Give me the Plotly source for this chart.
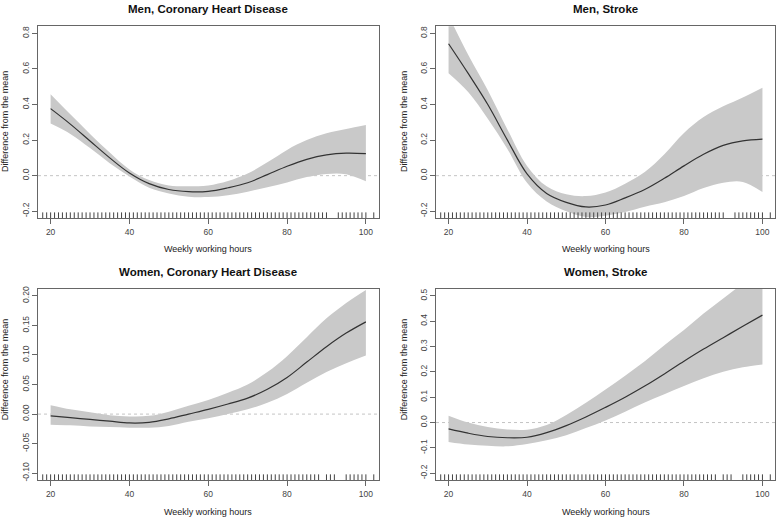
import plotly.graph_objects as go

W, H = 778, 520

hours = [20, 25, 30, 35, 40, 45, 50, 55, 60, 65, 70, 75, 80, 85, 90, 95, 100]

men_chd_fit = [0.377, 0.29, 0.195, 0.10, 0.015, -0.045, -0.078, -0.090, -0.088, -0.068, -0.040, 0.006, 0.053, 0.092, 0.117, 0.127, 0.124]
men_chd_up = [0.458, 0.345, 0.235, 0.13, 0.035, -0.025, -0.055, -0.060, -0.055, -0.030, 0.012, 0.075, 0.145, 0.200, 0.238, 0.262, 0.285]
men_chd_lo = [0.293, 0.235, 0.155, 0.07, -0.005, -0.068, -0.100, -0.118, -0.120, -0.110, -0.090, -0.065, -0.038, -0.008, 0.010, 0.008, -0.032]

men_str_fit = [0.742, 0.575, 0.40, 0.20, 0.010, -0.100, -0.150, -0.176, -0.165, -0.125, -0.078, -0.015, 0.055, 0.120, 0.170, 0.196, 0.206]
men_str_up = [0.900, 0.680, 0.480, 0.26, 0.055, -0.060, -0.105, -0.115, -0.095, -0.045, 0.020, 0.120, 0.240, 0.330, 0.390, 0.440, 0.495]
men_str_lo = [0.576, 0.470, 0.320, 0.15, -0.040, -0.145, -0.200, -0.232, -0.225, -0.205, -0.175, -0.150, -0.115, -0.070, -0.040, -0.035, -0.092]

wom_chd_fit = [-0.003, -0.006, -0.009, -0.012, -0.015, -0.014, -0.008, 0.000, 0.008, 0.017, 0.027, 0.042, 0.062, 0.088, 0.114, 0.137, 0.156]
wom_chd_up = [0.015, 0.008, 0.003, -0.002, -0.004, -0.003, 0.004, 0.014, 0.024, 0.036, 0.050, 0.071, 0.098, 0.130, 0.162, 0.188, 0.210]
wom_chd_lo = [-0.018, -0.019, -0.021, -0.022, -0.023, -0.023, -0.020, -0.013, -0.007, 0.000, 0.008, 0.019, 0.034, 0.053, 0.071, 0.086, 0.099]

wom_str_fit = [-0.025, -0.042, -0.055, -0.060, -0.058, -0.040, -0.012, 0.022, 0.060, 0.100, 0.144, 0.192, 0.242, 0.290, 0.335, 0.380, 0.424]
wom_str_up = [0.027, 0.000, -0.018, -0.027, -0.028, -0.010, 0.030, 0.078, 0.130, 0.185, 0.242, 0.305, 0.365, 0.430, 0.490, 0.550, 0.620]
wom_str_lo = [-0.077, -0.087, -0.092, -0.094, -0.085, -0.070, -0.050, -0.022, 0.008, 0.043, 0.079, 0.112, 0.144, 0.175, 0.200, 0.218, 0.229]

rug_men = [18, 19, 20, 21, 22, 23, 24, 25, 26, 27, 28, 29, 30, 31, 32, 33, 34, 35, 36, 37, 38, 39,
           40, 41, 42, 43, 44, 45, 46, 47, 48, 49, 50, 51, 52, 53, 54, 55, 56, 57, 58, 59, 60,
           61, 62, 63, 64, 65, 66, 67, 68, 69, 70, 71, 72, 73, 74, 75, 76, 77, 78, 79, 80,
           81, 82, 83, 84, 85, 86, 87, 88, 89, 90, 93, 94, 95, 96, 97, 98, 99, 100, 102]
rug_women = [18, 19, 20, 21, 22, 23, 24, 25, 26, 27, 28, 29, 30, 31, 32, 33, 34, 35, 36, 37, 38, 39,
             40, 41, 42, 43, 44, 45, 46, 47, 48, 49, 50, 51, 52, 53, 54, 55, 56, 57, 58, 59, 60,
             61, 62, 63, 64, 65, 66, 67, 68, 69, 70, 71, 72, 73, 74, 75, 76, 77, 78, 79, 80,
             81, 82, 83, 84, 85, 86, 87, 88, 90, 91, 92, 95, 96, 97, 98, 99, 100, 102]

titles = ["Men, Coronary Heart Disease", "Men, Stroke", "Women, Coronary Heart Disease", "Women, Stroke"]
x_ticks = [20, 40, 60, 80, 100]
y_ticks_men = [-0.2, 0.0, 0.2, 0.4, 0.6, 0.8]
y_ticks_wchd = [-0.10, -0.05, 0.00, 0.05, 0.10, 0.15, 0.20]
y_ticks_wstr = [-0.2, -0.1, 0.0, 0.1, 0.2, 0.3, 0.4, 0.5]

panels = [
    dict(fit=men_chd_fit, up=men_chd_up, lo=men_chd_lo, rug=rug_men, yt=y_ticks_men, fmt="{:.1f}", yr=[-0.24, 0.84]),
    dict(fit=men_str_fit, up=men_str_up, lo=men_str_lo, rug=rug_men, yt=y_ticks_men, fmt="{:.1f}", yr=[-0.24, 0.84]),
    dict(fit=wom_chd_fit, up=wom_chd_up, lo=wom_chd_lo, rug=rug_women, yt=y_ticks_wchd, fmt="{:.2f}", yr=[-0.112, 0.212]),
    dict(fit=wom_str_fit, up=wom_str_up, lo=wom_str_lo, rug=rug_women, yt=y_ticks_wstr, fmt="{:.1f}", yr=[-0.228, 0.528]),
]

# pixel boxes (left, right, top, bottom)
boxes = [(38, 378.5, 23.5, 217), (436, 775, 23.5, 217), (38, 378.5, 288, 481), (436, 775, 288, 481)]

FONT = "Liberation Sans, Arial, sans-serif"
fig = go.Figure()
layout = dict(
    width=W, height=H, margin=dict(l=0, r=0, t=0, b=0),
    paper_bgcolor="white", plot_bgcolor="white", showlegend=False,
    font=dict(family=FONT, color="#333"),
    annotations=[], shapes=[],
)

for i, (p, box) in enumerate(zip(panels, boxes)):
    n = "" if i == 0 else str(i + 1)
    xa, ya = "x" + n, "y" + n
    l, r, t, b = box
    # band
    fig.add_trace(go.Scatter(x=hours, y=p["lo"], mode="lines", line=dict(width=0, shape="spline"),
                             xaxis=xa, yaxis=ya, hoverinfo="skip"))
    fig.add_trace(go.Scatter(x=hours, y=p["up"], mode="lines", line=dict(width=0, shape="spline"),
                             fill="tonexty", fillcolor="#c9c9c9", xaxis=xa, yaxis=ya, hoverinfo="skip"))
    # fit
    fig.add_trace(go.Scatter(x=hours, y=p["fit"], mode="lines", line=dict(color="#333333", width=1.2, shape="spline"),
                             xaxis=xa, yaxis=ya))
    # rug
    fig.add_trace(go.Scatter(x=p["rug"], y=[p["yr"][0]] * len(p["rug"]), mode="markers",
                             marker=dict(symbol="line-ns", size=8.5, line=dict(width=1, color="#444444")),
                             cliponaxis=True, xaxis=xa, yaxis=ya, hoverinfo="skip"))
    axcommon = dict(showgrid=False, zeroline=False, showline=True, mirror=True, linecolor="#666666",
                    linewidth=1, ticks="outside", ticklen=5, tickcolor="#666666", tickwidth=1,
                    tickfont=dict(size=8.5, color="#444444", family=FONT))
    layout["xaxis" + n] = dict(axcommon, domain=[l / W, r / W], range=[16.8, 103.2], anchor=ya,
                               tickvals=x_ticks, ticktext=[str(v) for v in x_ticks])
    layout["yaxis" + n] = dict(axcommon, domain=[1 - b / H, 1 - t / H], range=p["yr"], anchor=xa,
                               tickvals=p["yt"], ticktext=[p["fmt"].format(v) for v in p["yt"]],
                               tickangle=-90)
    layout["shapes"].append(dict(type="line", xref=xa + " domain", yref=ya, x0=0, x1=1, y0=0, y1=0,
                                 line=dict(color="#c4c4c4", width=1, dash="3px,3px"), layer="below"))
    cx = (l + r) / 2
    ty = 6 if i < 2 else 270.7
    layout["annotations"].append(dict(text="<b>" + titles[i] + "</b>", x=cx / W, y=1 - ty / H, xref="paper", yref="paper",
                                      showarrow=False, xanchor="center", yanchor="middle",
                                      font=dict(size=11.5, color="#111111", family=FONT)))
    xty = 248 if i < 2 else 513
    layout["annotations"].append(dict(text="Weekly working hours", x=cx / W, y=1 - xty / H, xref="paper", yref="paper",
                                      showarrow=False, xanchor="center", yanchor="middle",
                                      font=dict(size=9, color="#222222", family=FONT)))
    ylx = 5 if i % 2 == 0 else 404
    yly = 120 if i < 2 else 370
    layout["annotations"].append(dict(text="Difference from the mean", x=ylx / W, y=1 - yly / H, xref="paper", yref="paper",
                                      showarrow=False, xanchor="center", yanchor="middle", textangle=-90,
                                      font=dict(size=9, color="#222222", family=FONT)))

fig.update_layout(**layout)
fig.write_html("out.html")
